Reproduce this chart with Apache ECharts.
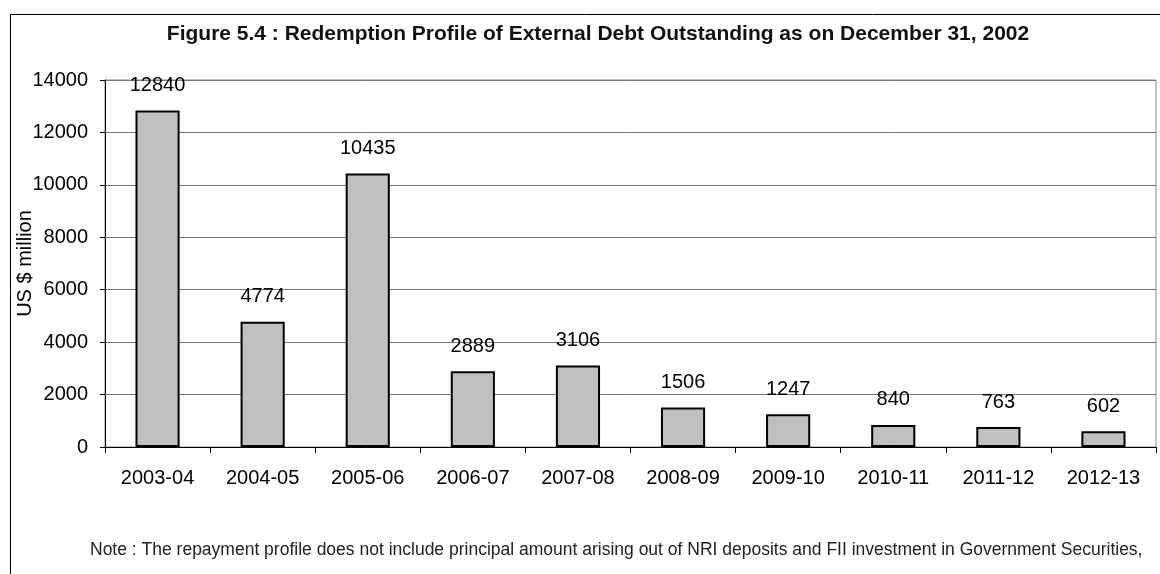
<!DOCTYPE html>
<html>
<head>
<meta charset="utf-8">
<script src="https://cdn.jsdelivr.net/npm/echarts@6/dist/echarts.min.js"></script>
<style>
html,body{margin:0;padding:0;background:#fff;}
#chart{width:1160px;height:574px;}
</style>
</head>
<body>
<div id="chart"></div>
<script>
var years = ['2003-04','2004-05','2005-06','2006-07','2007-08','2008-09','2009-10','2010-11','2011-12','2012-13'];
var debt = [12840, 4774, 10435, 2889, 3106, 1506, 1247, 840, 763, 602];
var yTicks = [0, 2000, 4000, 6000, 8000, 10000, 12000, 14000];

var chart = echarts.init(document.getElementById('chart'));

var option = {
    backgroundColor: '#fff',
    animation: false,
    title: {
        text: 'Figure 5.4 : Redemption Profile of External Debt Outstanding as on December 31, 2002',
        left: 593,
        textAlign: 'center',
        top: 19,
        textStyle: {fontFamily: 'Liberation Sans', fontSize: 21, fontWeight: 'bold', color: '#111'}
    },
    grid: {
        left: 105, right: 4, top: 80, bottom: 127,
        outerBoundsMode: 'none',
        show: true, borderColor: '#888', borderWidth: 1
    },
    xAxis: {
        type: 'category',
        data: years,
        axisLine: {lineStyle: {color: '#000', width: 1}},
        axisTick: {show: true, length: 6, lineStyle: {color: '#000'}},
        axisLabel: {fontFamily: 'Liberation Sans', fontSize: 20, color: '#000', margin: 21}
    },
    yAxis: {
        type: 'value',
        min: yTicks[0],
        max: yTicks[yTicks.length - 1],
        interval: 2000,
        name: 'US $ million',
        nameLocation: 'middle',
        nameGap: 70,
        nameMoveOverlap: false,
        nameTextStyle: {fontFamily: 'Liberation Sans', fontSize: 20, color: '#000'},
        axisLine: {show: true, lineStyle: {color: '#000', width: 1}},
        axisTick: {show: true, length: 5, lineStyle: {color: '#000'}},
        axisLabel: {
            fontFamily: 'Liberation Sans', fontSize: 20, color: '#000', margin: 17,
            formatter: function (v) { return String(v); }
        },
        splitLine: {lineStyle: {color: '#777', width: 1}}
    },
    series: [{
        type: 'bar',
        data: debt,
        barWidth: '42%',
        itemStyle: {color: '#c0c0c0', borderColor: '#000', borderWidth: 2},
        label: {
            show: true, position: 'top', distance: 15,
            fontFamily: 'Liberation Sans', fontSize: 20, color: '#000'
        }
    }],
    graphic: [
        {
            type: 'polyline',
            shape: {points: [[10.5, 574], [10.5, 14.5], [1160, 14.5]]},
            style: {stroke: '#000', lineWidth: 1, fill: null}
        },
        {
            type: 'text',
            left: 90, top: 541,
            style: {
                text: 'Note : The repayment profile does not include principal amount arising out of NRI deposits and FII investment in Government Securities,',
                font: '17.5px "Liberation Sans"',
                fill: '#222'
            }
        }
    ]
};

chart.setOption(option);
</script>
</body>
</html>
